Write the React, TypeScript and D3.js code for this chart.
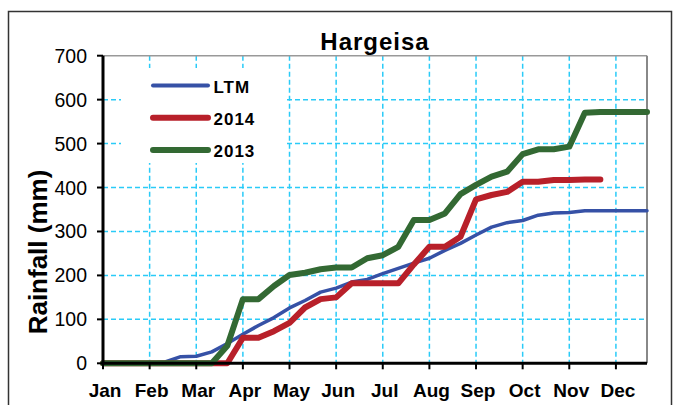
import React from 'react';
import * as d3 from 'd3';

const months = ['Jan', 'Feb', 'Mar', 'Apr', 'May', 'Jun', 'Jul', 'Aug', 'Sep', 'Oct', 'Nov', 'Dec'];
const yTicks = [0, 100, 200, 300, 400, 500, 600, 700];

// cumulative dekadal rainfall (mm), 3 dekads per month
const ltm = [0, 0, 0, 0, 3, 15, 16, 26, 45, 66, 86, 104, 126, 143, 162, 171, 185, 191, 204, 216, 228, 239, 257, 273, 292, 310, 320, 325, 337, 342, 343, 347, 347, 347, 347, 347];
const y2014 = [0, 0, 0, 0, 0, 0, 0, 0, 0, 58, 58, 73, 92, 127, 146, 150, 182, 182, 182, 182, 225, 265, 265, 288, 373, 383, 390, 413, 413, 417, 417, 418, 418];
const y2013 = [0, 0, 0, 0, 0, 0, 0, 0, 40, 146, 146, 176, 201, 206, 214, 218, 218, 239, 246, 265, 326, 326, 341, 385, 406, 425, 436, 476, 487, 487, 493, 570, 572, 572, 572, 572];

const series = [
  { name: 'LTM', values: ltm, color: '#3651A6', width: 3.5 },
  { name: '2014', values: y2014, color: '#B8202A', width: 6 },
  { name: '2013', values: y2013, color: '#336933', width: 6 },
];

const W = 680;
const H = 405;
const left = 103;
const right = 647;
const top = 55.7;
const bottom = 363.3;
const grid = '#2ACBF8';
const font = '"Liberation Sans", Arial, sans-serif';

export default function App() {
  const x = d3.scaleLinear().domain([0, 35]).range([left, right]);
  const y = d3.scaleLinear().domain([0, 700]).range([bottom, top]);
  const line = d3.line<number>()
    .x((_, i) => x(i))
    .y(d => y(d));

  const monthIdx = months.map((_, i) => i * 3);

  return (
    <svg width={W} height={H} style={{ position: 'absolute', left: 0, top: 0, background: '#fff' }}>
      <rect x={8.5} y={11.5} width={663} height={410} fill="#fff" stroke="#333" strokeWidth={1.5} />

      <text x={375} y={50} textAnchor="middle" fontFamily={font} fontWeight="bold" fontSize={24} letterSpacing={1}>
        Hargeisa
      </text>

      {/* grid */}
      {yTicks.slice(1, -1).map(t => (
        <line key={'h' + t} x1={left} x2={right} y1={y(t)} y2={y(t)} stroke={grid} strokeWidth={1.5} strokeDasharray="5,3" />
      ))}
      {monthIdx.slice(1).map(i => (
        <line key={'v' + i} x1={x(i)} x2={x(i)} y1={top} y2={bottom} stroke={grid} strokeWidth={1.5} strokeDasharray="5,3" />
      ))}
      <line x1={left} x2={right} y1={top} y2={top} stroke="#999" strokeWidth={1.5} />
      <line x1={right} x2={right} y1={top} y2={bottom} stroke="#888" strokeWidth={2} />

      {/* legend box */}
      <rect x={121} y={68} width={165} height={95} fill="#fff" />

      {/* lines */}
      {series.map(s => (
        <path key={s.name} d={line(s.values) || ''} fill="none" stroke={s.color} strokeWidth={s.width} strokeLinejoin="round" strokeLinecap="round" />
      ))}

      {/* axes */}
      <line x1={left} x2={left} y1={top} y2={bottom + 1.5} stroke="#000" strokeWidth={3} />
      <line x1={left - 1.5} x2={right} y1={bottom} y2={bottom} stroke="#000" strokeWidth={3} />
      {yTicks.map(t => (
        <g key={'yt' + t}>
          <line x1={left - 6} x2={left} y1={y(t)} y2={y(t)} stroke="#000" strokeWidth={2} />
          <text x={87} y={y(t) + 7} textAnchor="end" fontFamily={font} fontSize={19.5}>{t}</text>
        </g>
      ))}
      {monthIdx.map((i, k) => (
        <g key={'xt' + i}>
          <line x1={x(i)} x2={x(i)} y1={bottom} y2={bottom + 6} stroke="#000" strokeWidth={2} />
          <text x={x(i) + 2} y={397} textAnchor="middle" fontFamily={font} fontWeight="bold" fontSize={19}>{months[k]}</text>
        </g>
      ))}

      <text transform="translate(47,252) rotate(-90)" textAnchor="middle" fontFamily={font} fontWeight="bold" fontSize={26}>
        Rainfall (mm)
      </text>

      {/* legend */}
      {series.map((s, k) => (
        <g key={'lg' + s.name}>
          <line x1={153} x2={208} y1={85.5 + k * 32.3} y2={85.5 + k * 32.3} stroke={s.color} strokeWidth={k === 0 ? 4 : 6} strokeLinecap="round" />
          <text x={213.5} y={92.5 + k * 32} fontFamily={font} fontWeight="bold" fontSize={17} letterSpacing={1}>{s.name}</text>
        </g>
      ))}
    </svg>
  );
}
